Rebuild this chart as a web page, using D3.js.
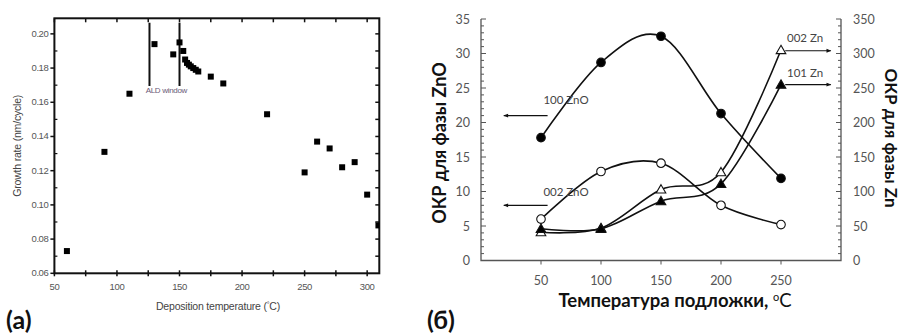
<!DOCTYPE html>
<html>
<head>
<meta charset="utf-8">
<script src="https://cdn.jsdelivr.net/npm/d3@7"></script>
<style>
body { margin: 0; background: #fff; }
svg { display: block; }
</style>
</head>
<body>
<svg id="chart" width="903" height="334"></svg>
<script>
// ---- panel (a): growth rate vs deposition temperature ----
const tempA = [60, 90, 110, 130, 145, 150, 153, 154.5, 156, 157.5, 159, 161, 163, 165, 175, 185, 220, 250, 260, 270, 280, 290, 300, 309];
const rateA = [0.073, 0.131, 0.165, 0.194, 0.188, 0.195, 0.190, 0.185, 0.183, 0.182, 0.181, 0.180, 0.179, 0.178, 0.175, 0.171, 0.153, 0.119, 0.137, 0.133, 0.122, 0.125, 0.106, 0.088];
const aldWindow = [126, 150];
const xTicksA = [50, 100, 150, 200, 250, 300];
const yTicksA = [0.06, 0.08, 0.10, 0.12, 0.14, 0.16, 0.18, 0.20];

// ---- panel (б): ОКР vs температура подложки ----
const tempB = [50, 100, 150, 200, 250];
const zno100 = [17.8, 28.7, 32.5, 21.3, 11.9];
const zno002 = [6.0, 12.9, 14.1, 8.0, 5.2];
const zn002 = [41, 47, 103, 128, 305];
const zn101 = [46, 46, 86, 111, 255];
const xTicksB = [50, 100, 150, 200, 250];
const yTicksLeft = [0, 5, 10, 15, 20, 25, 30, 35];
const yTicksRight = [0, 50, 100, 150, 200, 250, 300, 350];

const svg = d3.select('#chart');

// ================= (a) =================
const fa = 'Liberation Sans, Arial, sans-serif';
const xA = d3.scaleLinear().domain([50, 309.7]).range([54.4, 379.3]);
const yA = d3.scaleLinear().domain([0.06, 0.2091]).range([273.3, 18.3]);
const gA = svg.append('g');

gA.append('clipPath').attr('id', 'clipA')
    .append('rect')
    .attr('x', xA.range()[0]).attr('y', yA.range()[1])
    .attr('width', xA.range()[1] - xA.range()[0])
    .attr('height', yA.range()[0] - yA.range()[1]);

// frame
gA.append('rect')
    .attr('x', xA.range()[0]).attr('y', yA.range()[1])
    .attr('width', xA.range()[1] - xA.range()[0])
    .attr('height', yA.range()[0] - yA.range()[1])
    .attr('fill', 'none').attr('stroke', '#111').attr('stroke-width', 2);

// bottom ticks every 25, labels on the 50s
const bottomTicks = d3.range(50, 310, 25);
gA.selectAll('.btick').data(bottomTicks).enter().append('line')
    .attr('x1', d => xA(d)).attr('x2', d => xA(d))
    .attr('y1', yA.range()[0] - 3).attr('y2', yA.range()[0] + 3)
    .attr('stroke', '#111').attr('stroke-width', 1.5);
gA.selectAll('.ttick').data(bottomTicks).enter().append('line')
    .attr('x1', d => xA(d)).attr('x2', d => xA(d))
    .attr('y1', yA.range()[1]).attr('y2', yA.range()[1] + 4)
    .attr('stroke', '#111').attr('stroke-width', 1.5);
gA.selectAll('.xlab').data(xTicksA).enter().append('text')
    .attr('x', d => xA(d)).attr('y', 290)
    .attr('text-anchor', 'middle')
    .attr('font-family', fa).attr('font-size', 9.5).attr('fill', '#555')
    .attr('letter-spacing', -0.4)
    .text(d => d);

// left ticks
gA.selectAll('.ltick').data(yTicksA).enter().append('line')
    .attr('x1', xA.range()[0] - 4).attr('x2', xA.range()[0])
    .attr('y1', d => yA(d)).attr('y2', d => yA(d))
    .attr('stroke', '#111').attr('stroke-width', 1.5);
const minorA = d3.range(0.07, 0.21, 0.02);
gA.selectAll('.lmtick').data(minorA).enter().append('line')
    .attr('x1', xA.range()[0]).attr('x2', xA.range()[0] + 3)
    .attr('y1', d => yA(d)).attr('y2', d => yA(d))
    .attr('stroke', '#111').attr('stroke-width', 1.2);
gA.selectAll('.rtick').data(d3.range(0.07, 0.21, 0.01)).enter().append('line')
    .attr('x1', xA.range()[1] - 4).attr('x2', xA.range()[1])
    .attr('y1', d => yA(d)).attr('y2', d => yA(d))
    .attr('stroke', '#111').attr('stroke-width', 1.5);
gA.selectAll('.ylab').data(yTicksA).enter().append('text')
    .attr('x', xA.range()[0] - 6).attr('y', d => yA(d) + 3)
    .attr('text-anchor', 'end')
    .attr('font-family', fa).attr('font-size', 9.5).attr('fill', '#555')
    .attr('letter-spacing', -0.4)
    .text(d => d.toFixed(2));

// ALD window
gA.selectAll('.ald').data(aldWindow).enter().append('line')
    .attr('x1', d => xA(d)).attr('x2', d => xA(d))
    .attr('y1', yA(0.2065)).attr('y2', yA(0.1695))
    .attr('stroke', '#111').attr('stroke-width', 2);
gA.append('text')
    .attr('x', xA(d3.mean(aldWindow) + 1.5)).attr('y', yA(0.1652))
    .attr('text-anchor', 'middle')
    .attr('font-family', fa).attr('font-size', 8).attr('fill', '#6a5a78')
    .attr('letter-spacing', -0.3)
    .text('ALD window');

// points
gA.append('g').attr('clip-path', 'url(#clipA)')
    .selectAll('rect').data(tempA).enter().append('rect')
    .attr('x', (d, i) => xA(d) - 3)
    .attr('y', (d, i) => yA(rateA[i]) - 3)
    .attr('width', 6).attr('height', 6)
    .attr('fill', '#000');

// axis titles
gA.append('text')
    .attr('transform', `translate(21,${(yA.range()[0] + yA.range()[1]) / 2}) rotate(-90)`)
    .attr('text-anchor', 'middle')
    .attr('font-family', fa).attr('font-size', 10.5).attr('fill', '#444')
    .attr('letter-spacing', -0.2)
    .text('Growth rate (nm/cycle)');
const xtA = gA.append('text')
    .attr('x', 218).attr('y', 310)
    .attr('text-anchor', 'middle')
    .attr('font-family', fa).attr('font-size', 10.5).attr('fill', '#444')
    .attr('letter-spacing', -0.2);
xtA.append('tspan').text('Deposition temperature (');
xtA.append('tspan').attr('font-size', 7).attr('dy', -3).text('°');
xtA.append('tspan').attr('dy', 3).text('C)');

svg.append('text')
    .attr('x', 6).attr('y', 329)
    .attr('font-family', 'Lato, sans-serif').attr('font-weight', 'bold')
    .attr('font-size', 25).attr('fill', '#111')
    .text('(a)');

// ================= (б) =================
const fb = 'Lato, "Open Sans", sans-serif';
const xB = d3.scaleLinear().domain([0, 300]).range([481, 841]);
const yL = d3.scaleLinear().domain([0, 35]).range([260.5, 19]);
const yR = d3.scaleLinear().domain([0, 350]).range([260.5, 19]);
const gB = svg.append('g');
const axisCol = '#555';

// axes lines
gB.append('path')
    .attr('d', `M${xB(0)},${yL(35)}V${yL(0)}H${xB(300)}V${yR(350)}`)
    .attr('fill', 'none').attr('stroke', axisCol).attr('stroke-width', 1.3);

// left ticks (minor every 1, major every 5), inward
gB.selectAll('.lt').data(d3.range(0, 36, 1)).enter().append('line')
    .attr('x1', xB(0)).attr('x2', d => xB(0) + (d % 5 === 0 ? 5 : 3))
    .attr('y1', d => yL(d)).attr('y2', d => yL(d))
    .attr('stroke', axisCol).attr('stroke-width', 1);
// right ticks (minor every 10, major every 50), inward
gB.selectAll('.rt').data(d3.range(0, 351, 10)).enter().append('line')
    .attr('x1', xB(300)).attr('x2', d => xB(300) - (d % 50 === 0 ? 5 : 3))
    .attr('y1', d => yR(d)).attr('y2', d => yR(d))
    .attr('stroke', axisCol).attr('stroke-width', 1);
// bottom ticks
gB.selectAll('.bt').data(xTicksB).enter().append('line')
    .attr('x1', d => xB(d)).attr('x2', d => xB(d))
    .attr('y1', yL(0)).attr('y2', yL(0) + 4)
    .attr('stroke', axisCol).attr('stroke-width', 1);

gB.selectAll('.yl').data(yTicksLeft).enter().append('text')
    .attr('x', 470).attr('y', d => yL(d) + 4.5)
    .attr('text-anchor', 'end')
    .attr('font-family', fb).attr('font-size', 12.5).attr('fill', '#555')
    .text(d => d);
gB.selectAll('.yr').data(yTicksRight).enter().append('text')
    .attr('x', 853).attr('y', d => yR(d) + 4.5)
    .attr('text-anchor', 'start')
    .attr('font-family', fb).attr('font-size', 12.5).attr('fill', '#555')
    .text(d => d);
gB.selectAll('.xl').data(xTicksB).enter().append('text')
    .attr('x', d => xB(d)).attr('y', 284.5)
    .attr('text-anchor', 'middle')
    .attr('font-family', fb).attr('font-size', 12.5).attr('fill', '#555')
    .text(d => d);

// curves
const series = [
    { vals: zno100, y: yL, marker: 'circle', fill: '#000' },
    { vals: zno002, y: yL, marker: 'circle', fill: '#fff' },
    { vals: zn002, y: yR, marker: 'triangle', fill: '#fff' },
    { vals: zn101, y: yR, marker: 'triangle', fill: '#000' }
];
const line = d3.line().curve(d3.curveCardinal.tension(0));
series.forEach(s => {
    const pts = tempB.map((t, i) => [xB(t), s.y(s.vals[i])]);
    gB.append('path').attr('d', line(pts))
        .attr('fill', 'none').attr('stroke', '#111').attr('stroke-width', 1.6);
});
series.forEach(s => {
    const sym = s.marker === 'circle' ? d3.symbol(d3.symbolCircle, 58) : d3.symbol(d3.symbolTriangle, 40);
    gB.selectAll(null).data(tempB).enter().append('path')
        .attr('d', sym)
        .attr('transform', (t, i) => `translate(${xB(t)},${s.y(s.vals[i]) + (s.marker === 'triangle' ? 0.8 : 0)})`)
        .attr('fill', s.fill).attr('stroke', '#111').attr('stroke-width', 1.1);
});

// annotations with arrows
const defs = svg.append('defs');
defs.append('marker').attr('id', 'arr')
    .attr('viewBox', '0 0 10 10').attr('refX', 9).attr('refY', 5)
    .attr('markerWidth', 5).attr('markerHeight', 4).attr('orient', 'auto-start-reverse')
    .append('path').attr('d', 'M0,1L10,5L0,9Z').attr('fill', '#111');

const notes = [
    { label: '100 ZnO', y: yL, ty: 23.3, tx: 52, ay: 21, from: 55.5, to: 19 },
    { label: '002 ZnO', y: yL, ty: 9.9, tx: 52, ay: 8, from: 55.5, to: 19 },
    { label: '002 Zn', y: yR, ty: 322, tx: 255, ay: 304, from: 253.5, to: 291.5 },
    { label: '101 Zn', y: yR, ty: 272, tx: 255, ay: 255, from: 253.5, to: 291.5 }
];
notes.forEach(n => {
    gB.append('line')
        .attr('x1', xB(n.from)).attr('x2', xB(n.to))
        .attr('y1', n.y(n.ay)).attr('y2', n.y(n.ay))
        .attr('stroke', '#111').attr('stroke-width', 1.2)
        .attr('marker-end', 'url(#arr)');
    gB.append('text')
        .attr('x', xB(n.tx)).attr('y', n.y(n.ty) + 4)
        .attr('font-family', fb).attr('font-size', 11.5).attr('fill', '#444')
        .text(n.label);
});

// axis titles
gB.append('text')
    .attr('transform', `translate(446,143) rotate(-90)`)
    .attr('text-anchor', 'middle')
    .attr('font-family', fb).attr('font-weight', 'bold').attr('font-size', 18).attr('fill', '#111')
    .text('ОКР для фазы ZnO');
gB.append('text')
    .attr('transform', `translate(885,138) rotate(90)`)
    .attr('text-anchor', 'middle')
    .attr('font-family', fb).attr('font-weight', 'bold').attr('font-size', 17).attr('fill', '#111')
    .text('ОКР для фазы Zn');
const xtB = gB.append('text')
    .attr('x', 675).attr('y', 307)
    .attr('text-anchor', 'middle')
    .attr('font-family', fb).attr('font-weight', 'bold').attr('font-size', 18.5).attr('fill', '#111');
xtB.append('tspan').text('Температура подложки, ');
xtB.append('tspan').attr('font-size', 11).attr('font-weight', 'normal').attr('dy', -6).text('o');
xtB.append('tspan').attr('dy', 6).attr('font-weight', 'normal').text('C');

svg.append('text')
    .attr('x', 427).attr('y', 329)
    .attr('font-family', 'Lato, sans-serif').attr('font-weight', 'bold')
    .attr('font-size', 25).attr('fill', '#111')
    .text('(б)');
</script>
</body>
</html>
